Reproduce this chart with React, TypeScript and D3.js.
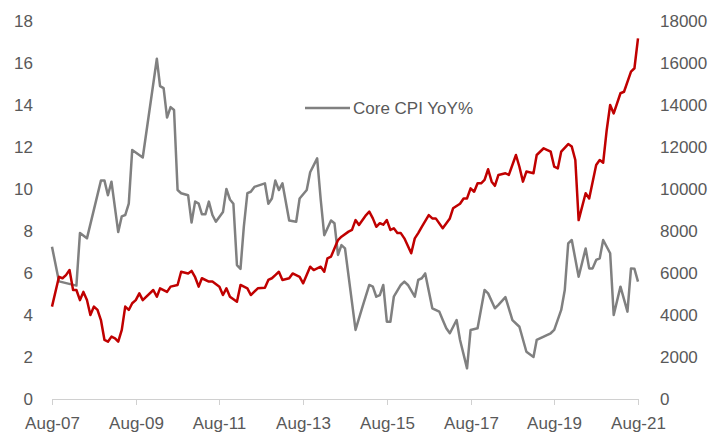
import { useEffect, useRef } from 'react';
import * as d3 from 'd3';

// months counted from Aug-07
const startMonth = new Date(2007, 7, 1);
const endMonth = new Date(2021, 7, 1);

// Core CPI YoY% (left axis): [month offset, value]
const coreCpi: [number, number][] = [
  [0, 7.25], [2, 5.6], [7, 5.4], [8, 7.9], [10, 7.65], [14, 10.4], [15, 10.4], [16, 9.7], [17, 10.35],
  [19, 7.95], [20, 8.7], [21, 8.76], [22, 9.3], [23, 11.86], [26, 11.5], [30, 16.2], [31, 14.9], [32, 14.8],
  [33, 13.4], [34, 13.9], [35, 13.76], [36, 9.95], [37, 9.8], [39, 9.7], [40, 8.4], [41, 9.4], [42, 9.3],
  [43, 8.8], [44, 8.8], [45, 9.4], [46, 8.76], [47, 8.44], [49, 8.9], [50, 10.0], [51, 9.5], [52, 9.3],
  [53, 6.38], [54, 6.2], [55, 8.2], [56, 9.8], [57, 9.87], [58, 10.1], [61, 10.27], [62, 9.3], [63, 9.55],
  [64, 10.4], [65, 9.95], [66, 10.27], [68, 8.5], [70, 8.44], [71, 9.55], [73, 9.95], [74, 10.8], [76, 11.46],
  [77, 9.5], [78, 7.8], [80, 8.5], [81, 8.37], [82, 6.86], [83, 7.33], [84, 7.17], [87, 3.29], [89, 4.4],
  [91, 5.43], [92, 5.35], [93, 4.87], [94, 4.95], [95, 5.43], [96, 3.68], [97, 3.68], [98, 4.87], [100, 5.43],
  [101, 5.59], [102, 5.43], [104, 4.87], [105, 5.67], [106, 5.75], [107, 5.98], [109, 4.32], [111, 4.16],
  [112, 3.76], [113, 3.37], [114, 3.13], [116, 3.76], [117, 2.81], [119, 1.46], [120, 3.29], [122, 3.37],
  [124, 5.19], [125, 5.03], [127, 4.32], [128, 4.48], [130, 4.85], [132, 3.76], [134, 3.44], [136, 2.25],
  [138, 2.0], [139, 2.81], [141, 2.97], [143, 3.13], [144, 3.29], [146, 4.24], [147, 5.19], [148, 7.41],
  [149, 7.57], [151, 5.82], [153, 7.17], [154, 6.22], [155, 6.22], [156, 6.62], [157, 6.7], [158, 7.57],
  [160, 6.94], [161, 4.0], [163, 5.35], [165, 4.16], [166, 6.22], [167, 6.2], [168, 5.59],
];

// red series (right axis): [month offset, value]
const indexLevel: [number, number][] = [
  [0, 4400], [2, 5820], [3, 5750], [4, 5900], [5, 6140], [6, 5190], [7, 5190], [8, 4710], [9, 5100],
  [10, 4710], [11, 4000], [12, 4400], [13, 4240], [14, 3760], [15, 2810], [16, 2730], [17, 2970], [18, 2890],
  [19, 2730], [20, 3290], [21, 4400], [22, 4240], [23, 4560], [24, 4710], [25, 5030], [26, 4710], [29, 5190],
  [30, 4870], [31, 5270], [33, 5100], [34, 5350], [36, 5430], [37, 6060], [39, 5980], [40, 6100], [41, 5800],
  [42, 5350], [43, 5750], [45, 5590], [46, 5590], [48, 5350], [49, 4950], [50, 5270], [51, 4870], [53, 4630],
  [54, 5430], [56, 5270], [57, 4950], [59, 5270], [61, 5300], [62, 5670], [63, 5750], [64, 5900], [65, 6060],
  [66, 5670], [68, 5750], [69, 5980], [71, 5820], [72, 5510], [74, 6300], [75, 6140], [77, 6300], [78, 6060],
  [79, 6700], [80, 6780], [82, 7570], [83, 7730], [85, 7970], [86, 8050], [87, 8520], [88, 8290], [90, 8760],
  [91, 8920], [92, 8600], [93, 8200], [94, 8370], [95, 8300], [96, 8520], [97, 8050], [98, 8130], [99, 7900],
  [100, 7900], [101, 7650], [103, 6940], [104, 7650], [105, 7900], [106, 8200], [108, 8760], [109, 8600],
  [110, 8600], [112, 8130], [114, 8600], [115, 9080], [117, 9300], [118, 9550], [119, 9550], [120, 10030],
  [121, 9870], [122, 10270], [123, 10270], [124, 10430], [125, 10940], [126, 10350], [127, 10150], [128, 10670],
  [130, 10750], [131, 10670], [133, 11620], [134, 11060], [135, 10350], [136, 10830], [138, 10750], [139, 11620],
  [141, 11940], [143, 11780], [144, 11060], [145, 10980], [146, 11780], [148, 12140], [149, 12020], [150, 11380],
  [151, 8520], [153, 9800], [154, 9550], [156, 11140], [157, 11380], [158, 11250], [159, 12810], [160, 14000],
  [161, 13600], [163, 14560], [164, 14630], [166, 15590], [167, 15750], [168, 17170],
];

const leftTicks = [0, 2, 4, 6, 8, 10, 12, 14, 16, 18];
const rightTicks = [0, 2000, 4000, 6000, 8000, 10000, 12000, 14000, 16000, 18000];
const xTickOffsets = [0, 24, 48, 72, 96, 120, 144, 168];
const legendLabel = 'Core CPI YoY%';

const width = 713;
const height = 432;
const font = '"Liberation Sans", Arial, sans-serif';
const textColor = '#595959';

const App = () => {
  const svgRef = useRef<SVGSVGElement>(null);

  useEffect(() => {
    const svg = d3.select(svgRef.current);
    svg.selectAll('*').remove();

    const x = d3.scaleTime().domain([startMonth, endMonth]).range([52, 638]);
    const yL = d3.scaleLinear().domain([0, 18]).range([399, 21]);
    const yR = d3.scaleLinear().domain([0, 18000]).range([399, 21]);
    const toDate = (m: number) => d3.timeMonth.offset(startMonth, m);

    // left axis labels
    svg.append('g')
      .selectAll('text')
      .data(leftTicks)
      .enter().append('text')
      .attr('x', 33)
      .attr('y', d => yL(d))
      .attr('dy', '0.36em')
      .attr('text-anchor', 'end')
      .attr('font-family', font)
      .attr('font-size', 17)
      .attr('fill', textColor)
      .text(d => d);

    // right axis labels
    svg.append('g')
      .selectAll('text')
      .data(rightTicks)
      .enter().append('text')
      .attr('x', 660)
      .attr('y', d => yR(d))
      .attr('dy', '0.36em')
      .attr('text-anchor', 'start')
      .attr('font-family', font)
      .attr('font-size', 17)
      .attr('fill', textColor)
      .text(d => d);

    // x axis
    svg.append('line')
      .attr('x1', 52).attr('x2', 638)
      .attr('y1', 399.5).attr('y2', 399.5)
      .attr('stroke', '#d0d0d0')
      .attr('stroke-width', 1);

    const xt = svg.append('g')
      .selectAll('g')
      .data(xTickOffsets)
      .enter().append('g')
      .attr('transform', d => `translate(${Math.round(x(toDate(d))) + 0.5},0)`);

    xt.append('line')
      .attr('y1', 399).attr('y2', 405)
      .attr('stroke', '#d0d0d0');

    xt.append('text')
      .attr('y', 429)
      .attr('text-anchor', 'middle')
      .attr('font-family', font)
      .attr('font-size', 17)
      .attr('fill', textColor)
      .text(d => d3.timeFormat('%b-%y')(toDate(d)));

    // lines
    const cpiLine = d3.line<[number, number]>()
      .x(d => x(toDate(d[0])))
      .y(d => yL(d[1]));

    const idxLine = d3.line<[number, number]>()
      .x(d => x(toDate(d[0])))
      .y(d => yR(d[1]));

    svg.append('path')
      .datum(coreCpi)
      .attr('d', cpiLine)
      .attr('fill', 'none')
      .attr('stroke', '#808080')
      .attr('stroke-width', 2.5)
      .attr('stroke-linejoin', 'round');

    svg.append('path')
      .datum(indexLevel)
      .attr('d', idxLine)
      .attr('fill', 'none')
      .attr('stroke', '#c00000')
      .attr('stroke-width', 2.5)
      .attr('stroke-linejoin', 'round');

    // legend
    const legend = svg.append('g').attr('transform', 'translate(305,108)');
    legend.append('line')
      .attr('x1', 0).attr('x2', 45)
      .attr('stroke', '#808080')
      .attr('stroke-width', 2.5);
    legend.append('text')
      .attr('x', 48)
      .attr('dy', '0.36em')
      .attr('font-family', font)
      .attr('font-size', 17)
      .attr('fill', textColor)
      .text(legendLabel);
  }, []);

  return (
    <svg
      ref={svgRef}
      width={width}
      height={height}
      style={{ position: 'absolute', left: 0, top: 0, background: '#fff' }}
    />
  );
};

export default App;
